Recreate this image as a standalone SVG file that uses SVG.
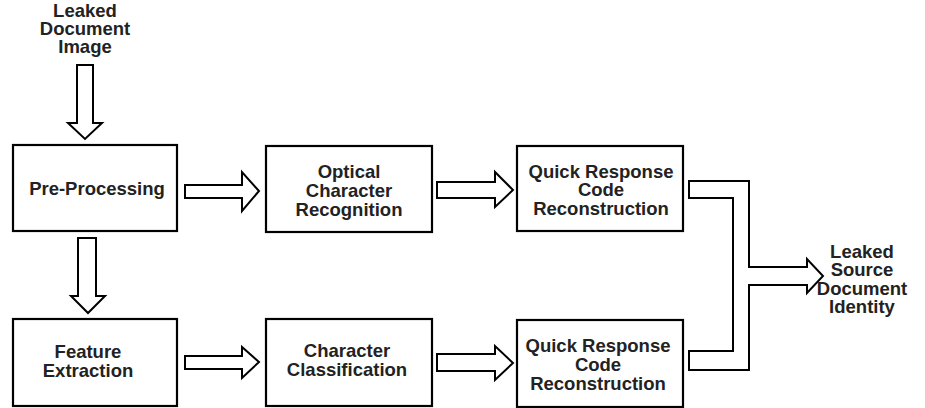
<svg xmlns="http://www.w3.org/2000/svg" width="925" height="408" viewBox="0 0 925 408">
<style>
.box{fill:#fff;stroke:#000;stroke-width:2.2}
.arr{fill:#fff;stroke:#000;stroke-width:2;stroke-linejoin:miter}
text{font-family:"Liberation Sans",Arial,sans-serif;font-weight:bold;font-size:18.5px;fill:#222;text-anchor:middle}
</style>
<rect width="925" height="408" fill="#fff"/>
<g id="connectors">
<polygon class="arr" points="77,65 93,65 93,123 102,123 85,139 68,123 77,123"/>
<polygon class="arr" points="78,238 96,238 96,296 105,296 88,313 71,296 78,296"/>
<polygon class="arr" points="185,185 242,185 242,172 259,191 242,211 242,198 185,198"/>
<polygon class="arr" points="437,182 495,182 495,172 513,190 495,207 495,198 437,198"/>
<polygon class="arr" points="185,356 242,356 242,347 259,362 242,378 242,369 185,369"/>
<polygon class="arr" points="437,354 495,354 495,346 513,363 495,380 495,371 437,371"/>
<polygon class="arr" points="689,181 749,181 749,267 807,267 807,259 823,276 807,293 807,285 749,285 749,370 689,370 689,351 733,351 733,198 689,198"/>
</g>
<g id="n-input">
<text x="85" y="17">Leaked</text>
<text x="85" y="35">Document</text>
<text x="85" y="53">Image</text>
</g>
<g id="n-pre">
<rect class="box" x="13" y="145" width="164" height="86"/>
<text x="97" y="195">Pre-Processing</text>
</g>
<g id="n-feat">
<rect class="box" x="13" y="319" width="164" height="87"/>
<text x="88" y="358">Feature</text>
<text x="88" y="377">Extraction</text>
</g>
<g id="n-ocr">
<rect class="box" x="266" y="146" width="166" height="86"/>
<text x="349" y="178">Optical</text>
<text x="349" y="197">Character</text>
<text x="349" y="216">Recognition</text>
</g>
<g id="n-cls">
<rect class="box" x="266" y="319" width="166" height="87"/>
<text x="347" y="357">Character</text>
<text x="347" y="376">Classification</text>
</g>
<g id="n-qr1">
<rect class="box" x="517" y="146" width="166" height="85"/>
<text x="601" y="178">Quick Response</text>
<text x="601" y="196">Code</text>
<text x="601" y="215">Reconstruction</text>
</g>
<g id="n-qr2">
<rect class="box" x="517" y="320" width="166" height="87"/>
<text x="598" y="352">Quick Response</text>
<text x="598" y="371">Code</text>
<text x="598" y="390">Reconstruction</text>
</g>
<g id="n-out">
<text x="862" y="258">Leaked</text>
<text x="862" y="276">Source</text>
<text x="862" y="295">Document</text>
<text x="862" y="313">Identity</text>
</g>
</svg>
